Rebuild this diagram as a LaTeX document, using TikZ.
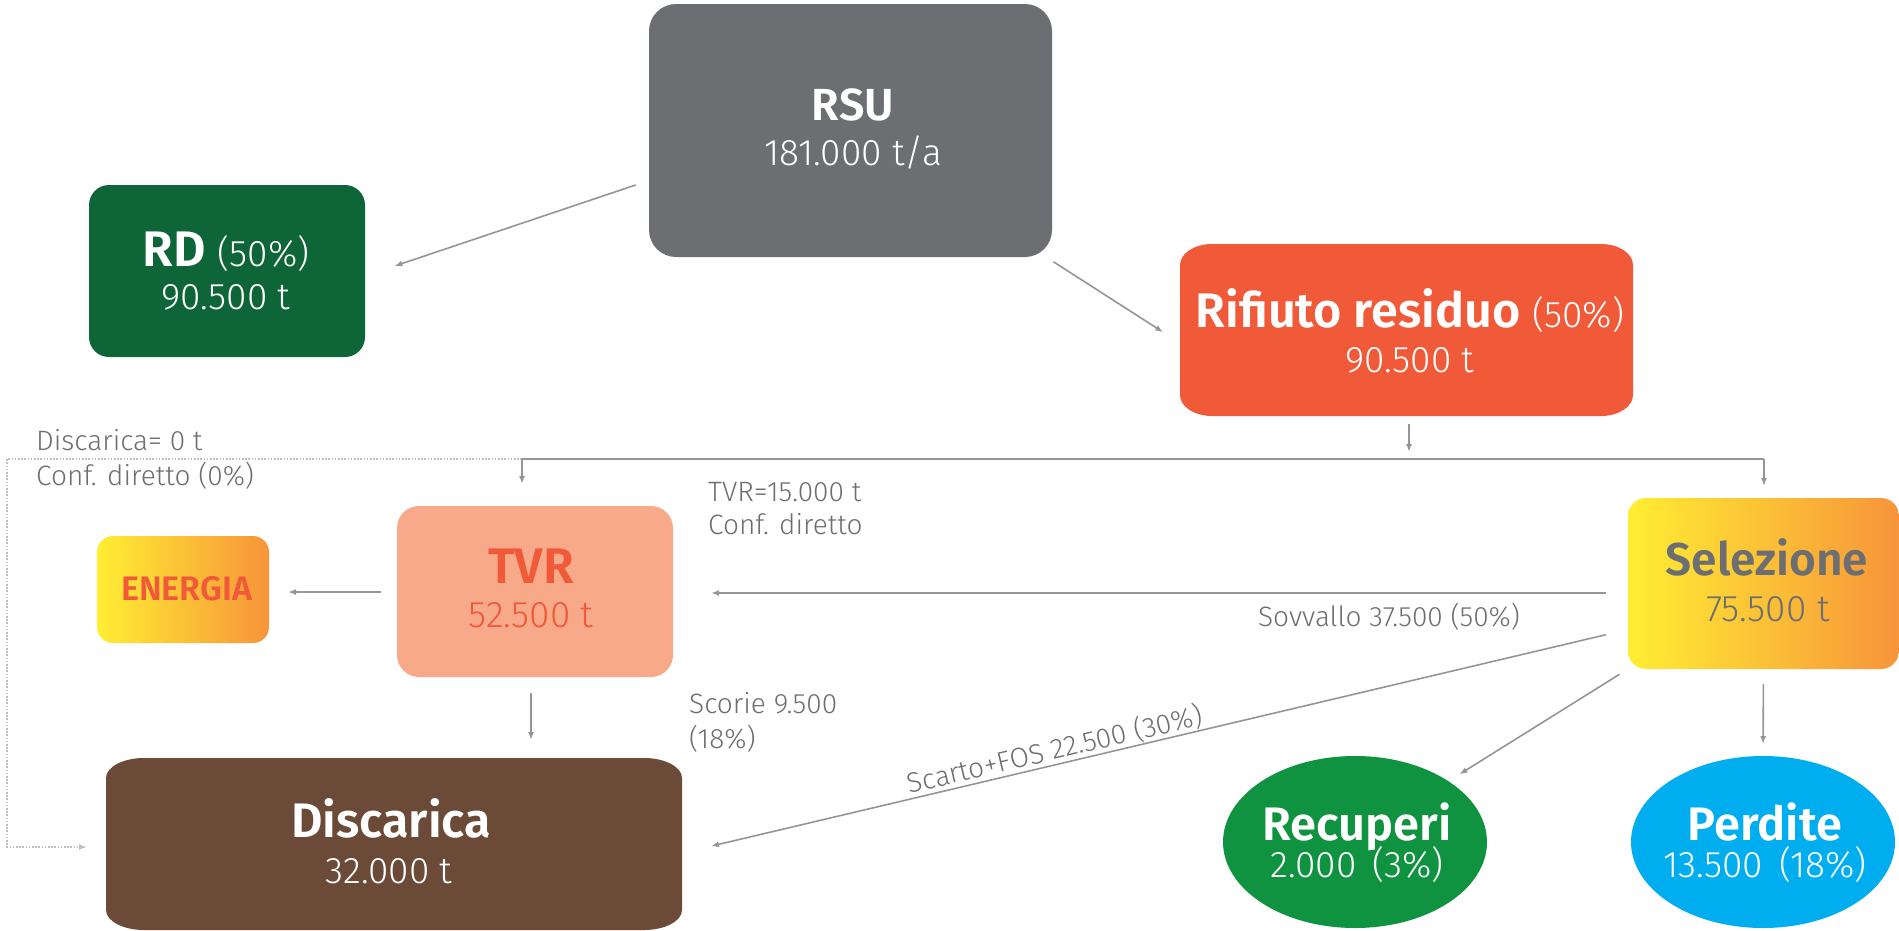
\documentclass[tikz,border=0pt]{standalone}
\usepackage{fontspec}
\setmainfont{Fira Sans}
\IfFontExistsTF{FiraSans-Light.otf}{\newfontfamily\lightfont{FiraSans-Light.otf}}{%
  \IfFontExistsTF{Fira Sans Light}{\newfontfamily\lightfont{Fira Sans Light}}{\newfontfamily\lightfont{Fira Sans}}}
\IfFontExistsTF{FiraSans-SemiBold.otf}{\newfontfamily\semifont{FiraSans-SemiBold.otf}}{%
  \IfFontExistsTF{Fira Sans SemiBold}{\newfontfamily\semifont{Fira Sans SemiBold}}{\newfontfamily\semifont{Fira Sans}[UprightFont=*,BoldFont=*]\renewcommand\semifont{\bfseries}}}
\usetikzlibrary{arrows.meta,shapes.geometric,calc}
\definecolor{txtgray}{HTML}{6D6E71}
\definecolor{rsugray}{HTML}{6D6E71}
\definecolor{linegray}{HTML}{939598}
\definecolor{dotgray}{HTML}{BCBEC0}
\definecolor{rdgreen}{HTML}{0E6638}
\definecolor{rifred}{HTML}{F05A38}
\definecolor{tvrpink}{HTML}{F8A98A}
\definecolor{yel}{HTML}{FFEE33}
\definecolor{ora}{HTML}{F7943A}
\definecolor{discbrown}{HTML}{6C4A38}
\definecolor{recgreen}{HTML}{0F9340}
\definecolor{perdblue}{HTML}{00AEEF}
\newcommand\fsz[1]{\fontsize{#1}{#1}\selectfont}
\tikzset{
  box/.style={rectangle, inner sep=0pt, outer sep=0pt},
  oval/.style={ellipse, inner sep=0pt, outer sep=0pt, minimum width=264pt, minimum height=172pt},
  arr/.style={draw=linegray, line width=1.6pt, -{Latex[length=8pt,width=6pt]}},
  plainline/.style={draw=linegray, line width=1.6pt},
  dotarr/.style={draw=dotgray, line width=1.6pt, dash pattern=on 1.6pt off 1.6pt, -{Latex[length=8pt,width=6pt]}},
  txt/.style={anchor=base, inner sep=0pt},
  sub/.style={anchor=base, inner sep=0pt, font=\lightfont\fsz{37}},
  lbl/.style={anchor=base west, inner sep=0pt, text=txtgray, font=\lightfont\fsz{28}},
  ellbox/.style n args={3}{insert path={([xshift=#2]#1.north west) -- ([xshift=-#2]#1.north east)
     arc[start angle=90,end angle=0,x radius=#2,y radius=#3] -- ([yshift=#3]#1.south east)
     arc[start angle=0,end angle=-90,x radius=#2,y radius=#3] -- ([xshift=#2]#1.south west)
     arc[start angle=270,end angle=180,x radius=#2,y radius=#3] -- ([yshift=-#3]#1.north west)
     arc[start angle=180,end angle=90,x radius=#2,y radius=#3] -- cycle}}
}
\begin{document}
\begin{tikzpicture}[x=1pt,y=1pt]
\useasboundingbox (0,0) rectangle (1899,-930);
% boxes
\node[box, fill=rsugray, rounded corners=27pt, minimum width=403pt, minimum height=253pt] (rsu) at (850.5,-130.5) {};
\node[box, fill=rdgreen, rounded corners=20pt, minimum width=276pt, minimum height=172pt] (rd) at (227,-271) {};
\node[box, minimum width=453pt, minimum height=172pt] (rif) at (1406.5,-330) {};
\fill[rifred, ellbox={rif}{32pt}{21pt}];
\node[box, fill=tvrpink, rounded corners=22pt, minimum width=276pt, minimum height=171pt] (tvr) at (535,-591.5) {};
\node[box, left color=yel, right color=ora, rounded corners=16pt, minimum width=172pt, minimum height=107pt] (ene) at (183,-589.5) {};
\node[box, left color=yel, right color=ora, rounded corners=18pt, minimum width=271pt, minimum height=171pt] (sel) at (1763.5,-583.5) {};
\node[box, minimum width=576pt, minimum height=172pt] (disc) at (394,-844) {};
\fill[discbrown, ellbox={disc}{38pt}{20pt}];
\node[oval, fill=recgreen] (rec) at (1355,-842) {};
\node[oval, fill=perdblue] (perd) at (1763,-842) {};
% box texts
\node[txt, text=white, font=\semifont\fsz{45}] (rsuT) at (853,-120) {RSU};
\node[sub, text=white] (rsuS) at (853,-165) {181.000 t/a};
\node[sub, text=white] (rdT) at (226,-266) {{\semifont\fsz{50}RD}\hspace{12pt}(50\%)};
\node[sub, text=white] (rdS) at (226,-309) {90.500 t};
\node[sub, text=white] (rifT) at (1410,-327) {{\semifont\fsz{48.5}Rifiuto residuo}\hspace{12pt}(50\%)};
\node[sub, text=white] (rifS) at (1410,-372) {90.500 t};
\node[txt, text=rifred, font=\semifont\fsz{50}] (tvrT) at (531,-583) {TVR};
\node[sub, text=rifred] (tvrS) at (531,-627) {52.500 t};
\node[txt, text=rifred, font=\semifont\fsz{34}] (eneT) at (186.5,-600) {ENERGIA};
\node[txt, text=txtgray, font=\semifont\fsz{46}] (selT) at (1767,-575) {Selezione};
\node[sub, text=txtgray] (selS) at (1768,-621) {75.500 t};
\node[txt, text=white, font=\semifont\fsz{48.5}] (discT) at (391,-837) {Discarica};
\node[sub, text=white] (discS) at (389,-883) {32.000 t};
\node[txt, text=white, font=\semifont\fsz{47}] (recT) at (1357,-840) {Recuperi};
\node[sub, text=white] (recS) at (1357,-877) {2.000\hspace{16pt}(3\%)};
\node[txt, text=white, font=\semifont\fsz{47}] (perdT) at (1765,-840) {Perdite};
\node[sub, text=white] (perdS) at (1765,-877) {13.500\hspace{16pt}(18\%)};
% labels
\node[lbl] (l1) at (36,-450) {Discarica= 0 t};
\node[lbl] (l2) at (36,-485) {Conf. diretto (0\%)};
\node[lbl] (l3) at (708,-501) {TVR=15.000 t};
\node[lbl] (l4) at (708,-534) {Conf. diretto};
\node[lbl] (l5) at (689,-713) {Scorie 9.500};
\node[lbl] (l6) at (689,-748) {(18\%)};
\node[lbl, anchor=base] (l7) at (1389,-626) {Sovvallo 37.500 (50\%)};
\node[lbl, anchor=base, rotate=13.26] (l8) at (1057,-759) {Scarto+FOS 22.500 (30\%)};
% connectors
\coordinate (busL) at (522,-459);
\coordinate (busM) at (1409,-459);
\coordinate (busR) at (1764,-459);
\coordinate (dotc) at (7,-459);
\draw[arr, shorten <=14pt, shorten >=31pt] ([yshift=-50pt]rsu.west) -- ([yshift=-5pt]rd.east);
\draw[arr, shorten <=9pt, shorten >=20pt] ([xshift=-6pt]rsu.south east) -- ([yshift=-13pt]rif.west);
\draw[arr, shorten <=8pt, shorten >=7pt] (rif.south -| busM) -- (busM);
\draw[dotarr, shorten >=19pt] (busL) -- (dotc) |- ([yshift=-3pt]disc.west);
\draw[plainline] (busL) -- (busR);
\draw[arr, shorten >=22pt] (busL) -- (busL |- tvr.north);
\draw[arr, shorten >=12pt] (busR) -- (busR |- sel.north);
\draw[arr, shorten <=16pt, shorten >=19pt] ([yshift=-0.5pt]tvr.west) -- ([yshift=-2.5pt]ene.east);
\draw[arr, shorten <=22pt, shorten >=38pt] ([yshift=-9.5pt]sel.west) -- ([yshift=-1.5pt]tvr.east);
\draw[arr, shorten <=22.6pt, shorten >=29.8pt] ([yshift=-46pt]sel.west) -- ([yshift=-9pt]disc.east);
\draw[arr, shorten <=10pt, shorten >=13pt] (sel.south west) -- (rec.north east);
\draw[arr, shorten <=15pt, shorten >=12pt] (sel.south) -- (perd.north);
\draw[arr, shorten <=16pt, shorten >=18pt] ([xshift=-4pt]tvr.south) -- ([xshift=-4pt]tvr.south |- disc.north);
\end{tikzpicture}
\end{document}
